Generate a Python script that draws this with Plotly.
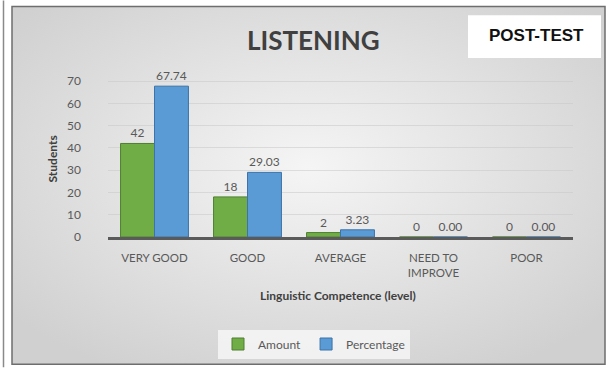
import plotly.graph_objects as go

categories = ["VERY GOOD", "GOOD", "AVERAGE", "NEED TO<br>IMPROVE", "POOR"]
amount = [42, 18, 2, 0, 0]
percentage = [67.74, 29.03, 3.23, 0.00, 0.00]
y_ticks = [0, 10, 20, 30, 40, 50, 60, 70]

W, H = 608, 369
L, R, T, B = 108, 35, 70, 131
PW, PH = W - L - R, H - T - B


def px(x):
    return (x - L) / PW


def py(y):
    return (H - B - y) / PH


FONT = "Lato"
GREY = "#595959"

fig = go.Figure()
fig.add_trace(go.Bar(
    name="Amount", x=categories, y=amount,
    text=[str(v) for v in amount], textposition="outside",
    marker=dict(color="#70ad47", line=dict(color="#4f7f30", width=1)),
    textfont=dict(family=FONT, size=12, color=GREY), cliponaxis=False,
))
fig.add_trace(go.Bar(
    name="Percentage", x=categories, y=percentage,
    text=[f"{v:.2f}" for v in percentage], textposition="outside",
    marker=dict(color="#5b9bd5", line=dict(color="#3d73a8", width=1)),
    textfont=dict(family=FONT, size=12, color=GREY), cliponaxis=False,
))

bg_svg = (
    "data:image/svg+xml;utf8,"
    "<svg xmlns='http://www.w3.org/2000/svg' width='593' height='360'>"
    "<defs><radialGradient id='g' cx='50%' cy='45%' r='65%'>"
    "<stop offset='0%' stop-color='%23f5f5f5'/>"
    "<stop offset='100%' stop-color='%23d0d0d0'/>"
    "</radialGradient></defs>"
    "<rect width='593' height='360' fill='url(%23g)'/></svg>"
)

fig.update_layout(
    width=W, height=H,
    margin=dict(l=L, r=R, t=T, b=B, pad=0),
    paper_bgcolor="white",
    plot_bgcolor="rgba(0,0,0,0)",
    barmode="group", bargap=0.27, bargroupgap=0,
    font=dict(family=FONT, color=GREY, size=12),
    showlegend=True,
    legend=dict(
        orientation="h", x=px(314), y=py(344), xanchor="center", yanchor="middle",
        bgcolor="rgba(246,246,246,0.85)", font=dict(family=FONT, size=12, color=GREY),
        itemwidth=30, tracegroupgap=0,
    ),
    images=[dict(
        source=bg_svg, xref="paper", yref="paper",
        x=px(12), y=py(6), sizex=px(605) - px(12), sizey=py(6) - py(366),
        xanchor="left", yanchor="top", sizing="stretch", layer="below",
    )],
    xaxis=dict(
        showline=True, linecolor="#5a5a5a", linewidth=2.5,
        showgrid=False, ticks="", ticklabelstandoff=8,
        tickfont=dict(family=FONT, size=11.5, color=GREY),
    ),
    yaxis=dict(
        range=[0, 75], tickvals=y_ticks, showline=False, zeroline=False,
        showgrid=True, gridcolor="rgba(200,200,200,0.55)", gridwidth=1,
        ticks="", ticklabelstandoff=26,
        tickfont=dict(family=FONT, size=12, color=GREY),
    ),
    shapes=[
        dict(type="rect", xref="paper", yref="paper",
             x0=px(12), x1=px(605), y0=py(6), y1=py(366),
             line=dict(color="#6e6e6e", width=1.5), layer="above"),
        dict(type="line", xref="paper", yref="paper",
             x0=px(3.5), x1=px(3.5), y0=py(0), y1=py(369),
             line=dict(color="#8a8a8a", width=1.5)),
        dict(type="rect", xref="paper", yref="paper",
             x0=px(468), x1=px(601), y0=py(15), y1=py(58),
             fillcolor="white", line=dict(width=0), layer="below"),
    ],
    annotations=[
        dict(text="<b>LISTENING</b>", xref="paper", yref="paper",
             x=px(313), y=py(40), xanchor="center", yanchor="middle",
             showarrow=False, font=dict(family=FONT, size=26, color="#404040")),
        dict(text="<b>POST-TEST</b>", xref="paper", yref="paper",
             x=px(536), y=py(35), xanchor="center", yanchor="middle",
             showarrow=False, font=dict(family="Liberation Sans", size=17, color="#111111")),
        dict(text="<b>Students</b>", xref="paper", yref="paper",
             x=px(52), y=py(160), xanchor="center", yanchor="middle", textangle=-90,
             showarrow=False, font=dict(family=FONT, size=12, color="#404040")),
        dict(text="<b>Linguistic Competence (level)</b>", xref="paper", yref="paper",
             x=px(338), y=py(297), xanchor="center", yanchor="middle",
             showarrow=False, font=dict(family=FONT, size=12, color="#404040")),
    ],
)

fig.write_html("out.html")
